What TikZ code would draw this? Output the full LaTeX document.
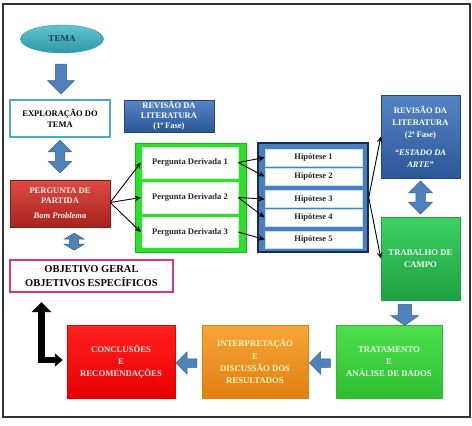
\documentclass[tikz,border=0pt]{standalone}
\usepackage{fontspec}
\setmainfont{Liberation Serif}
\usetikzlibrary{shapes.geometric,shapes.arrows,arrows.meta,calc}
\definecolor{teal1}{HTML}{62C4CF}
\definecolor{teal2}{HTML}{2E97A6}
\definecolor{tealb}{HTML}{4BACC6}
\definecolor{navy}{HTML}{1F3A5F}
\definecolor{blue1}{HTML}{5584C4}
\definecolor{blue2}{HTML}{2B5797}
\definecolor{blueb}{HTML}{24467A}
\definecolor{red1}{HTML}{DE4A44}
\definecolor{red2}{HTML}{A8231F}
\definecolor{mag}{HTML}{D63A78}
\definecolor{grn}{HTML}{2EE02E}
\definecolor{grnb}{HTML}{1DB01D}
\definecolor{hypb}{HTML}{4A7EBF}
\definecolor{hypline}{HTML}{1A2B48}
\definecolor{hypin}{HTML}{B9E2F2}
\definecolor{trab1}{HTML}{3DD163}
\definecolor{trab2}{HTML}{1FA141}
\definecolor{trat1}{HTML}{4FE04F}
\definecolor{trat2}{HTML}{2DBE2D}
\definecolor{ora1}{HTML}{F7A63A}
\definecolor{ora2}{HTML}{E07F12}
\definecolor{con1}{HTML}{FF2020}
\definecolor{con2}{HTML}{E80000}
\definecolor{arrf}{HTML}{4F81BD}
\definecolor{arrd}{HTML}{385D8A}
\begin{document}
\begin{tikzpicture}[x=1pt,y=-1pt,
  txt/.style={font=\bfseries\fontsize{8.5}{10}\selectfont},
  bigtxt/.style={font=\bfseries\fontsize{8.7}{12.3}\selectfont},
  box/.style={rectangle, inner sep=1pt, align=center, txt},
  bluebox/.style={box, top color=blue1, bottom color=blue2, draw=blueb, line width=0.4pt, text=white},
  pdbox/.style={box, fill=white, draw=white!85!green, minimum width=96, txt, text=black!85},
  hypbox/.style={box, fill=white, draw=hypin, line width=0.8pt, minimum width=97, minimum height=17, txt, text=black!85},
  blk/.style={-{Stealth[length=6pt,width=5.5pt]}, line width=0.9pt, black},
  sarrow/.style={single arrow, fill=arrf, draw=arrd, line width=0.5pt},
  darrow/.style={double arrow, shape border rotate=90, fill=arrf, draw=arrd, line width=0.5pt},
  arrpath/.style={fill=arrf, draw=arrd, line width=0.5pt}
]
\useasboundingbox (0,0) rectangle (472,426);
\draw[line width=1.3pt, black!80] (3,4) rectangle (470,417);

% left column
\node[ellipse, minimum width=83, minimum height=28, top color=teal1, bottom color=teal2, draw=teal2,
  text=navy, font=\bfseries\fontsize{9}{10}\selectfont] (tema) at (62,39) {TEMA};
\node[box, draw=tealb, line width=1.3pt, fill=white, minimum width=100, minimum height=37] (expl) at (60,118.5)
  {EXPLORAÇÃO DO\\[1pt]TEMA};
\node[bluebox, minimum width=90, minimum height=32] (rev1) at (169,116)
  {REVISÃO DA\\LITERATURA\\(1ª Fase)};
\node[box, top color=red1, bottom color=red2, draw=red2!80!black, minimum width=100, minimum height=47,
  text=red!5] (perg) at (60,203.5) {PERGUNTA DE\\PARTIDA\\[5pt]\textit{Bom Problema}};
\node[box, draw=mag, line width=1.3pt, fill=white, minimum width=163, minimum height=32,
  font=\bfseries\fontsize{10.5}{14}\selectfont] (obj) at (91.5,276)
  {OBJETIVO GERAL\\OBJETIVOS ESPECÍFICOS};

% derived questions
\node[rectangle, fill=grn, draw=grnb, line width=0.6pt, minimum width=111, minimum height=109] (gcont) at (190.5,197.5) {};
\node[pdbox, minimum height=31] (pd1) at (190,162.5) {Pergunta Derivada 1};
\node[pdbox, minimum height=31] (pd2) at (190,197.5) {Pergunta Derivada 2};
\node[pdbox, minimum height=30] (pd3) at (190,232) {Pergunta Derivada 3};

% hypotheses
\node[rectangle, fill=hypb, draw=hypline, line width=1.5pt, minimum width=110, minimum height=109] (hcont) at (313,197.5) {};
\node[hypbox] (h1) at (313.5,157.5) {Hipótese 1};
\node[hypbox] (h2) at (313.5,176.5) {Hipótese 2};
\node[hypbox] (h3) at (313.5,199) {Hipótese 3};
\node[hypbox] (h4) at (313.5,217.5) {Hipótese 4};
\node[hypbox] (h5) at (313.5,239.5) {Hipótese 5};

% right column
\node[bluebox, minimum width=79, minimum height=83, font=\bfseries\fontsize{8.5}{12}\selectfont] (rev2) at (420.5,136.5)
  {REVISÃO DA\\LITERATURA\\(2ª Fase)\\[6pt]\textit{“ESTADO DA}\\\textit{ARTE”}};
\node[box, top color=trab1, bottom color=trab2, draw=trab2, minimum width=79, minimum height=83,
  text=green!5, bigtxt] (trab) at (420.5,258.5) {TRABALHO DE\\CAMPO};

% bottom row
\node[box, top color=trat1, bottom color=trat2, draw=trat2, minimum width=106, minimum height=73,
  text=green!8, bigtxt] (trat) at (389,361.5) {TRATAMENTO\\E\\ANÁLISE DE DADOS};
\node[box, top color=ora1, bottom color=ora2, draw=ora2, minimum width=106, minimum height=73,
  text=yellow!25, bigtxt] (interp) at (255,361.5) {INTERPRETAÇÃO\\E\\DISCUSSÃO DOS\\RESULTADOS};
\node[box, top color=con1, bottom color=con2, draw=con2, minimum width=108, minimum height=73,
  text=red!8, bigtxt] (conc) at (121,361.5) {CONCLUSÕES\\E\\RECOMENDAÇÕES};

% block arrows
\node[sarrow, shape border rotate=270, inner sep=5pt, minimum height=30, minimum width=27] (a1)
  at ($(tema.south)!0.5!(expl.north)$) {};
\node[darrow, inner sep=4.5pt, minimum height=33, minimum width=20] (a2)
  at ($(expl.south)!0.45!(perg.north)$) {};
\coordinate (a3) at ($(perg.south)!0.45!(obj.north)$);
\draw[arrpath] ($(a3)+(0,-8.5)$) -- ++(10,6) -- ++(-5.5,0) -- ++(0,5) -- ++(5.5,0) -- ++(-10,6)
  -- ++(-10,-6) -- ++(5.5,0) -- ++(0,-5) -- ++(-5.5,0) -- cycle;
\node[darrow, inner sep=4.5pt, minimum height=33, minimum width=20] (a4)
  at ($(rev2.south)!0.5!(trab.north)$) {};
\node[sarrow, shape border rotate=270, inner sep=6.5pt, minimum height=21, minimum width=23, single arrow tip angle=110] (a5)
  at ($(trab.south)!0.5!(trat.north)$) {};
\node[sarrow, shape border rotate=180, inner sep=4pt, minimum height=21, minimum width=14] (a6)
  at ($(interp.east)!0.5!(trat.west)+(0,1.5)$) {};
\node[sarrow, shape border rotate=180, inner sep=4pt, minimum height=21, minimum width=14] (a7)
  at ($(conc.east)!0.5!(interp.west)+(0,1.5)$) {};

% black connectors
\coordinate (pergout) at ($(perg.east)+(0,-1)$);
\draw[blk] (pergout) -- ($(pd1.west)+(-1,0)$);
\draw[blk] (pergout) -- ($(pd2.west)+(-1,0)$);
\draw[blk] (pergout) -- ($(pd3.west)+(-1,0)$);
\draw[blk] (pd1.east) -- (h1.west);
\draw[blk] (pd1.east) -- (h2.west);
\draw[blk] (pd2.east) -- (h3.west);
\draw[blk] (pd2.east) -- (h4.west);
\draw[blk] (pd3.east) -- (h5.west);
\draw[blk] (hcont.east) -- (rev2.west);
\draw[blk] (hcont.east) -- (trab.west);

% elbow return arrow
\coordinate (eup) at (41.5,302);
\coordinate (eend) at ($(conc.west)+(-4,-1.5)$);
\draw[line width=6.5pt, black, {Triangle[width=19pt,length=10pt]}-{Triangle[width=13pt,length=8pt]}]
  (eup) |- (eend);
\end{tikzpicture}
\end{document}
